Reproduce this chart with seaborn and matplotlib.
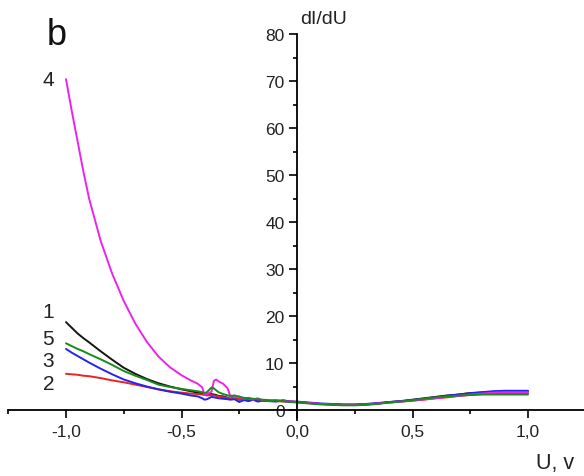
import matplotlib
matplotlib.use("Agg")
import matplotlib.pyplot as plt
import seaborn as sns
import pandas as pd
from matplotlib.ticker import FixedLocator, FixedFormatter, MultipleLocator

# Bias voltage grid, V
U = [-1.00, -0.975, -0.95, -0.925, -0.90, -0.85, -0.80, -0.75, -0.70, -0.65,
     -0.60, -0.55, -0.50, -0.46, -0.43, -0.41, -0.40, -0.39, -0.37, -0.36,
     -0.35, -0.34, -0.32, -0.30, -0.29, -0.27, -0.25, -0.23, -0.21, -0.19,
     -0.17, -0.15, -0.12, -0.09, -0.06, -0.03, 0.00, 0.05, 0.10, 0.15,
     0.20, 0.25, 0.30, 0.35, 0.40, 0.45, 0.50, 0.55, 0.60, 0.65,
     0.70, 0.75, 0.80, 0.85, 0.90, 0.95, 1.00]

# Differential conductance dI/dU for samples 1..5
curve1 = [18.7, 17.5, 16.3, 15.3, 14.4, 12.5, 10.7, 9.0, 7.7, 6.6,
          5.7, 5.0, 4.4, 4.0, 3.7, 3.5, 3.3, 3.3, 3.4, 3.3,
          3.2, 3.0, 2.9, 2.6, 2.4, 2.6, 2.2, 2.3, 2.0, 2.3,
          2.0, 2.1, 1.9, 2.0, 1.9, 1.8, 1.7, 1.5, 1.3, 1.2,
          1.1, 1.1, 1.2, 1.4, 1.7, 1.9, 2.2, 2.5, 2.8, 3.1,
          3.3, 3.6, 3.7, 3.9, 3.9, 3.9, 3.9]
curve2 = [7.7, 7.6, 7.5, 7.3, 7.2, 6.8, 6.3, 5.9, 5.4, 4.9,
          4.4, 4.0, 3.7, 3.5, 3.4, 3.3, 3.2, 3.1, 3.2, 3.1,
          3.0, 2.9, 2.7, 2.6, 2.5, 2.4, 2.3, 2.4, 2.1, 2.2,
          2.0, 2.0, 1.9, 1.9, 1.8, 1.8, 1.7, 1.5, 1.3, 1.2,
          1.1, 1.1, 1.2, 1.4, 1.6, 1.8, 2.0, 2.2, 2.5, 2.7,
          3.0, 3.2, 3.4, 3.5, 3.6, 3.6, 3.6]
curve3 = [13.0, 12.2, 11.5, 10.8, 10.1, 8.8, 7.6, 6.5, 5.7, 5.0,
          4.4, 3.9, 3.5, 3.1, 2.9, 2.5, 2.2, 2.3, 2.8, 2.7,
          2.6, 2.5, 2.4, 2.3, 2.2, 2.3, 1.7, 2.1, 1.9, 2.2,
          1.8, 2.0, 1.9, 1.8, 2.1, 1.8, 1.8, 1.6, 1.4, 1.3,
          1.2, 1.2, 1.3, 1.5, 1.7, 1.9, 2.1, 2.4, 2.7, 3.0,
          3.3, 3.6, 3.8, 4.0, 4.1, 4.1, 4.1]
curve4 = [70.4, 63.6, 57.2, 50.8, 45.0, 36.0, 29.0, 23.2, 18.4, 14.5,
          11.4, 9.1, 7.4, 6.3, 5.6, 4.8, 3.2, 3.4, 3.9, 6.2,
          6.5, 6.1, 5.6, 4.6, 3.1, 2.7, 2.9, 2.4, 2.6, 2.2,
          2.5, 2.1, 2.0, 2.1, 1.9, 1.8, 1.7, 1.5, 1.3, 1.2,
          1.1, 1.1, 1.2, 1.4, 1.6, 1.8, 2.0, 2.3, 2.5, 2.8,
          3.0, 3.3, 3.5, 3.7, 3.8, 3.8, 3.8]
curve5 = [14.2, 13.6, 13.0, 12.5, 11.9, 10.8, 9.6, 8.3, 7.3, 6.4,
          5.4, 4.9, 4.5, 4.2, 4.0, 3.8, 3.6, 3.8, 4.8, 4.6,
          4.2, 3.8, 3.4, 3.1, 3.0, 3.1, 2.8, 2.6, 2.5, 2.4,
          2.3, 2.2, 2.1, 2.0, 1.9, 1.7, 1.6, 1.4, 1.2, 1.1,
          1.0, 1.0, 1.1, 1.3, 1.6, 1.8, 2.1, 2.4, 2.7, 2.9,
          3.1, 3.2, 3.3, 3.3, 3.3, 3.3, 3.3]

curve_names = ["1", "2", "3", "4", "5"]
curve_values = [curve1, curve2, curve3, curve4, curve5]
curve_colors = ["#151515", "#ec2222", "#2424ec", "#ee22ee", "#1a8a1a"]
draw_order = ["1", "2", "3", "4", "5"]

# Curve numbers written at the left ends (label, y position)
label_names = ["4", "1", "5", "3", "2"]
label_y = [70.3, 21.0, 15.3, 10.6, 5.7]

xtick_vals = [-1.0, -0.5, 0.0, 0.5, 1.0]
xtick_labels = ["-1,0", "-0,5", "0,0", "0,5", "1,0"]
ytick_vals = [0, 10, 20, 30, 40, 50, 60, 70, 80]

sns.set_theme(style="white")
plt.rcParams["font.family"] = ["Liberation Sans", "DejaVu Sans"]

frames = []
for name, vals in zip(curve_names, curve_values):
    frames.append(pd.DataFrame({"U": U, "dIdU": vals, "curve": name}))
df = pd.concat(frames, ignore_index=True)

fig = plt.figure(figsize=(5.84, 4.77), dpi=100)
ax = fig.add_axes([8.25 / 584, 56.1 / 477, 577.5 / 584, 385.9 / 477])

for name in draw_order:
    sub = df[df["curve"] == name]
    color = curve_colors[curve_names.index(name)]
    sns.lineplot(data=sub, x="U", y="dIdU", color=color, lw=1.4,
                 sort=False, estimator=None, ax=ax)

ax.set_xlim(-1.25, 1.25)
ax.set_ylim(-2.1, 80)

# Axes crossing at the origin
ax.spines["left"].set_position(("data", 0))
ax.spines["bottom"].set_position(("data", 0))
ax.spines["top"].set_visible(False)
ax.spines["right"].set_visible(False)
for s in ("left", "bottom"):
    ax.spines[s].set_color("black")
    ax.spines[s].set_linewidth(1.3)

ax.xaxis.set_major_locator(FixedLocator(xtick_vals))
ax.xaxis.set_major_formatter(FixedFormatter(xtick_labels))
ax.xaxis.set_minor_locator(MultipleLocator(0.25))
ax.yaxis.set_major_locator(FixedLocator(ytick_vals))
ax.yaxis.set_major_formatter(FixedFormatter([str(v) for v in ytick_vals]))
ax.yaxis.set_minor_locator(MultipleLocator(5))

ax.tick_params(axis="both", which="major", direction="out", length=5.5,
               width=1.2, color="black", labelsize=12.5, labelcolor="#222222")
ax.tick_params(axis="both", which="minor", direction="out", length=3,
               width=1.2, color="black")
ax.tick_params(axis="x", which="major", pad=4.5)
ax.tick_params(axis="y", which="major", pad=3.5)
ax.xaxis.set_ticks_position("bottom")
ax.yaxis.set_ticks_position("left")
ax.set_xlabel("")
ax.set_ylabel("")
ax.grid(False)

for txt, yv in zip(label_names, label_y):
    ax.text(-1.076, yv, txt, fontsize=15, ha="center", va="center",
            color="#222222")

fig.text(0.0976, 0.9266, "b", fontsize=26, ha="center", va="center",
         color="#111111")
fig.text(300 / 584, 1 - 19 / 477, "dI/dU", fontsize=14, ha="left",
         va="center", color="#222222")
fig.text(536 / 584, 1 - 464 / 477, "U, v", fontsize=15.5, ha="left",
         va="center", color="#222222")

fig.savefig("out.png", dpi=100)
